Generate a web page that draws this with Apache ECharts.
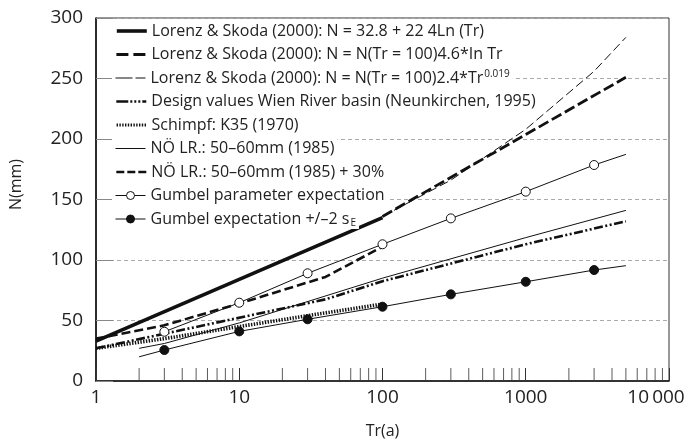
<!DOCTYPE html>
<html><head><meta charset="utf-8">
<script src="https://cdn.jsdelivr.net/npm/echarts@6/dist/echarts.min.js"></script>
<style>html,body{margin:0;padding:0;background:#fff}#c{width:689px;height:444px}</style>
</head><body><div id="c"></div>
<script>
// ---- data (T in years, N in mm) ----
const tLorenzLn = [1, 100];            const nLorenzLn = [33, 135];
const tLorenzLog = [100, 5000];        const nLorenzLog = [136, 251];
const tLorenzPow = [100, 300, 1000, 3000, 5000]; const nLorenzPow = [136, 166, 208, 256, 284];
const tDesign = [1, 40, 100, 1000, 5000];        const nDesign = [27, 67.5, 82.5, 113, 132];
const tSchimpf = [1, 3, 10, 30, 100];            const nSchimpf = [27, 35, 45, 54, 63.6];
const tNoe = [2, 3, 10, 100, 1000, 5000];        const nNoe = [27, 31, 48, 85, 118.5, 141];
const tNoe30 = [1, 3, 10, 40, 100];              const nNoe30 = [35, 46, 64, 86, 111];
const tGumbel = [3, 10, 30, 100, 300, 1000, 3000, 5000];
const nGumbel = [40.7, 64.7, 89, 113, 134.4, 156.5, 178.5, 187.3];
const tGumbelE = [2, 3, 10, 30, 100, 300, 1000, 3000, 5000];
const nGumbelE = [20, 25.6, 41, 51, 61.4, 71.6, 82, 91.7, 95.3];
const minorTicks = [2,3,4,5,6,7,8,9,20,30,40,50,60,70,80,90,200,300,400,500,600,700,800,900,2000,3000,4000,5000,6000,7000,8000,9000];
const yTicks = [0, 50, 100, 150, 200, 250, 300];

const names = [
  'Lorenz & Skoda (2000): N = 32.8 + 22 4Ln (Tr)',
  'Lorenz & Skoda (2000): N = N(Tr = 100)4.6*In Tr',
  'Lorenz & Skoda (2000): N = N(Tr = 100)2.4*Tr0.019',
  'Design values Wien River basin (Neunkirchen, 1995)',
  'Schimpf: K35 (1970)',
  'NÖ LR.: 50–60mm (1985)',
  'NÖ LR.: 50–60mm (1985) + 30%',
  'Gumbel parameter expectation',
  'Gumbel expectation +/–2 sE'
];
const legendLabels = [
  names[0], names[1],
  'Lorenz & Skoda (2000): N = N(Tr = 100)2.4*Tr{sup|0.019}',
  names[3], names[4], names[5], names[6], names[7],
  'Gumbel expectation +/–2 s{sub|E}'
];

const zip = (t, n) => t.map((v, i) => [v, n[i]]);
const FONT = "'Open Sans', 'Noto Sans', sans-serif";
const AXFONT = "'Open Sans', 'Noto Sans', sans-serif";
const K = '#111';

// line styles (plot) and legend-icon styles
const styles = [
  { width: 3.6 },
  { width: 2.8, type: [11, 4] },
  { width: 1, type: [9, 4] },
  { width: 2.6, type: [9, 2.5, 2, 2.5, 2, 2.5] },
  { width: 3.6, type: [1.4, 1.4] },
  { width: 1 },
  { width: 2.6, type: [9, 4] },
  { width: 1 },
  { width: 1 }
];
const iconStyles = [
  { width: 3.6, type: 'solid' },
  { width: 2.8, type: [12, 5] },
  { width: 1, type: [17, 3, 10, 3] },
  { width: 2.6, type: [12, 2, 2, 2, 2, 2, 2, 2] },
  { width: 3.2, type: [1.4, 1.4] },
  { width: 1, type: 'solid' },
  { width: 2.6, type: [8, 3] },
  { width: 1, type: 'solid' },
  { width: 1, type: 'solid' }
];

function lineSeries(i, t, n) {
  return { name: names[i], type: 'line', data: zip(t, n), symbol: 'none', showSymbol: false,
    lineStyle: Object.assign({ color: K }, styles[i]), itemStyle: { color: K }, z: 3 };
}
function gumbelSeries(i, t, n, filled, endsBare) {
  const d = zip(t, n).map((p, j) => endsBare.includes(j) ? { value: p, symbol: 'none' } : { value: p });
  return { name: names[i], type: 'line', data: d, symbol: 'circle', symbolSize: 9, showSymbol: true,
    lineStyle: { color: K, width: 1 },
    itemStyle: { color: filled ? K : '#fff', borderColor: K, borderWidth: 1 }, z: 4 };
}

const series = [
  lineSeries(0, tLorenzLn, nLorenzLn),
  lineSeries(1, tLorenzLog, nLorenzLog),
  lineSeries(2, tLorenzPow, nLorenzPow),
  lineSeries(3, tDesign, nDesign),
  lineSeries(4, tSchimpf, nSchimpf),
  lineSeries(5, tNoe, nNoe),
  lineSeries(6, tNoe30, nNoe30),
  gumbelSeries(7, tGumbel, nGumbel, false, [tGumbel.length - 1]),
  gumbelSeries(8, tGumbelE, nGumbelE, true, [0, tGumbelE.length - 1]),
  { name: 'minorTicks', type: 'scatter', data: minorTicks.map(v => [v, 0]), symbol: 'rect',
    symbolSize: [1, 13], symbolOffset: [0, '-50%'], itemStyle: { color: '#333' }, silent: true, z: 2 }
];

const rowTop0 = 21, rowStep = 23.5;
const legends = names.map((nm, i) => ({
  data: [nm], orient: 'vertical', left: 112, top: rowTop0 + i * rowStep,
  itemWidth: 30, itemHeight: 10, padding: [1, 3, 1, 3], backgroundColor: '#fff',
  selectedMode: false,
  formatter: () => legendLabels[i],
  lineStyle: Object.assign({ color: K }, iconStyles[i]),
  itemStyle: i < 7 ? { opacity: 0 } : { color: i === 7 ? '#fff' : K, borderColor: K, borderWidth: 1 },
  textStyle: { fontFamily: FONT, fontSize: 16, color: '#222', lineHeight: 18,
    rich: { sup: { fontSize: 10, verticalAlign: 'top', padding: [0, 0, 8, 1], fontFamily: FONT, color: '#222' },
            sub: { fontSize: 10, verticalAlign: 'bottom', padding: [6, 0, 0, 1], fontFamily: FONT, color: '#222' } } },
  z: 10
}));

const chart = echarts.init(document.getElementById('c'), null, { renderer: 'canvas' });
chart.setOption({
  animation: false,
  backgroundColor: '#fff',
  grid: { left: 91, right: 20, top: 18, bottom: 63, show: true, borderColor: '#333', borderWidth: 1, containLabel: false },
  legend: legends,
  xAxis: {
    type: 'log', logBase: 10, min: 1, max: 10000,
    name: 'Tr(a)', nameLocation: 'middle', nameGap: 42,
    nameTextStyle: { fontFamily: AXFONT, fontSize: 16, color: '#222' },
    axisLine: { lineStyle: { color: K, width: 1.6 } },
    axisTick: { inside: true, length: 13, lineStyle: { color: '#333', width: 1 } },
    axisLabel: { fontFamily: AXFONT, fontSize: 19, color: '#222', margin: 7,
      formatter: v => v === 10000 ? '{r|10\u2009000}' : String(v),
      rich: { r: { fontFamily: AXFONT, fontSize: 19, color: '#222', padding: [0, 26, 0, 0] } } },
    splitLine: { show: false }
  },
  yAxis: {
    type: 'value', min: yTicks[0], max: yTicks[yTicks.length - 1], interval: 50,
    name: 'N(mm)', nameLocation: 'middle', nameGap: 72, nameRotate: 90,
    nameTextStyle: { fontFamily: AXFONT, fontSize: 16, color: '#222', padding: [0, 0, 0, 30] },
    axisLine: { show: true, lineStyle: { color: K, width: 1.6 } },
    axisTick: { show: true, inside: true, length: 17, lineStyle: { color: '#888', width: 1 } },
    axisLabel: { fontFamily: AXFONT, fontSize: 19, color: '#222', margin: 13 },
    splitLine: { show: true, lineStyle: { color: '#aaa', type: [4, 3], width: 1 } }
  },
  series
});
</script></body></html>
